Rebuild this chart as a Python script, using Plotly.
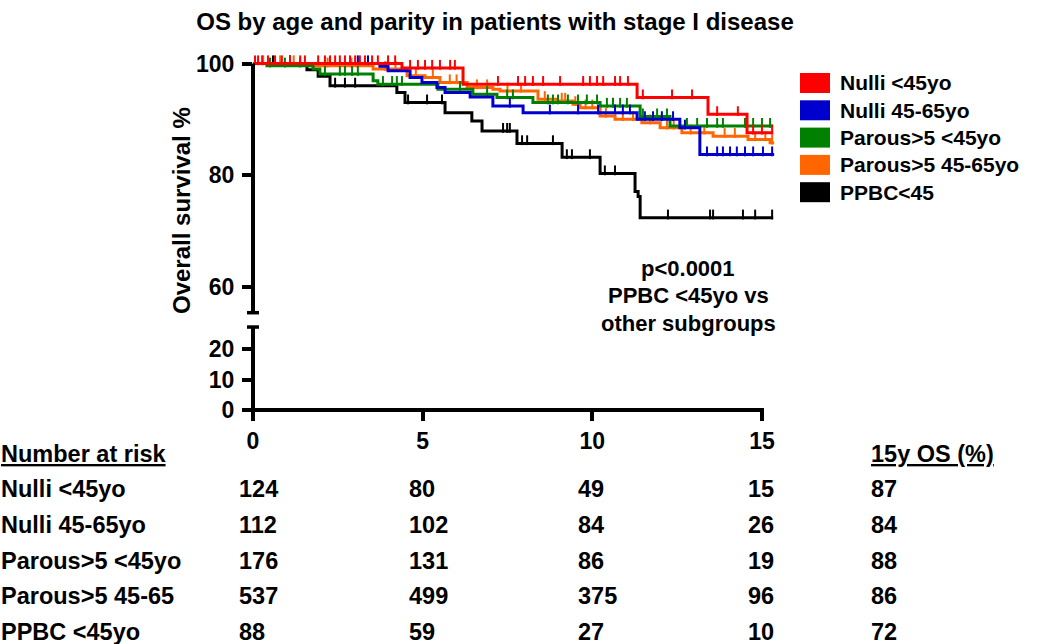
import plotly.graph_objects as go

W, H = 1050, 644
FONT = "Liberation Sans"

# ---------------- data ----------------
series_names = ["Nulli <45yo", "Nulli 45-65yo", "Parous>5 <45yo", "Parous>5 45-65yo", "PPBC<45"]
series_colors = ["#FF0000", "#0000CC", "#008000", "#FF6600", "#000000"]

# Kaplan-Meier steps: time (years) of each drop and survival (%) after it
nulli_young_t = [4.39, 6.19, 11.32, 13.41, 14.56]
nulli_young_s = [99.2, 96.3, 93.9, 90.9, 87.6]
nulli_young_end = 15.33
nulli_young_cens = [0.06, 0.15, 0.27, 0.44, 0.65, 0.85, 1.09, 1.39, 1.53, 1.92, 2.12, 2.27, 2.42,
                    2.56, 2.71, 2.86, 3.01, 3.15, 3.30, 3.51, 3.68, 3.98, 4.19, 4.63, 4.86, 5.07,
                    5.28, 5.51, 5.81, 5.95, 7.22, 7.81, 8.02, 8.25, 8.55, 9.05, 9.73, 9.93, 10.14,
                    10.32, 10.67, 10.82, 11.05, 11.49, 12.35, 12.94, 13.68, 14.29, 14.74, 15.0, 15.30]

nulli_mid_t = [3.74, 3.98, 4.63, 4.98, 5.42, 5.66, 6.40, 7.07, 7.96, 11.32, 12.58, 13.17]
nulli_mid_s = [99.5, 98.7, 97.5, 96.6, 95.7, 94.8, 94.0, 92.4, 91.2, 90.0, 88.5, 83.7]
nulli_mid_end = 15.36
nulli_mid_cens = [3.09, 3.39, 7.57, 8.75, 9.58, 10.17, 10.67, 10.90, 11.11, 11.55, 11.79, 12.05,
                  12.38, 12.73, 13.38, 13.68, 13.85, 14.06, 14.26, 14.50, 14.74, 15.03, 15.30]

parous_young_t = [0.41, 1.77, 1.97, 3.54, 3.68, 5.45, 6.48, 7.19, 8.25, 10.23, 11.41, 12.29]
parous_young_s = [99.6, 99.0, 98.1, 96.9, 96.3, 95.4, 94.5, 93.9, 93.0, 92.4, 90.5, 88.8]
parous_young_end = 15.33
parous_young_cens = [0.50, 0.94, 1.39, 2.12, 2.56, 2.71, 2.92, 3.09, 3.83, 4.10, 4.24, 4.39, 6.10,
                     6.90, 7.49, 7.66, 8.69, 8.84, 8.99, 9.28, 9.58, 9.84, 10.14, 10.43, 10.61,
                     10.82, 11.02, 11.49, 11.91, 12.20, 12.79, 13.09, 13.38, 13.68, 13.85, 14.50,
                     14.74, 15.0, 15.24]

parous_mid_t = [1.83, 3.54, 4.54, 5.07, 5.51, 6.31, 7.07, 7.28, 8.40, 8.96, 9.43, 9.64, 10.23,
                10.67, 11.46, 12.00, 12.64, 13.56, 14.59, 15.24]
parous_mid_s = [99.6, 99.0, 97.8, 97.5, 96.6, 95.7, 95.4, 95.1, 93.6, 93.3, 92.7, 92.1, 90.6,
                90.0, 89.4, 88.5, 87.6, 87.0, 86.4, 85.8]
parous_mid_end = 15.36
parous_mid_cens = [0.3, 0.8, 1.2, 2.2, 2.9, 3.1, 3.9, 4.2, 4.8, 5.3, 5.8, 6.0, 6.6, 6.9, 7.5, 7.9,
                   8.6, 9.1, 9.2, 9.5, 9.8, 10.0, 10.4, 10.9, 11.2, 11.7, 12.2, 12.4, 12.9, 13.3,
                   13.9, 14.2, 14.8, 15.1, 15.3]

ppbc_t = [1.59, 1.92, 2.27, 4.24, 4.48, 5.66, 6.45, 6.75, 7.78, 9.11, 10.23, 11.26, 11.35, 11.41]
ppbc_s = [98.9, 97.7, 96.0, 94.8, 93.0, 91.2, 89.7, 87.9, 85.7, 83.2, 80.3, 77.1, 76.2, 72.4]
ppbc_end = 15.33
ppbc_cens = [0.59, 1.09, 2.42, 2.71, 3.01, 4.57, 5.13, 5.57, 7.37, 7.49, 7.57, 7.93, 8.08, 8.84,
             9.25, 9.40, 9.93, 10.37, 10.67, 12.23, 13.47, 13.56, 14.44, 14.80, 15.30]

curves = [
    (nulli_young_t, nulli_young_s, nulli_young_end, nulli_young_cens),
    (nulli_mid_t, nulli_mid_s, nulli_mid_end, nulli_mid_cens),
    (parous_young_t, parous_young_s, parous_young_end, parous_young_cens),
    (parous_mid_t, parous_mid_s, parous_mid_end, parous_mid_cens),
    (ppbc_t, ppbc_s, ppbc_end, ppbc_cens),
]
draw_order = [4, 3, 2, 1, 0]

upper_ticks = [60, 80, 100]
lower_ticks = [0, 10, 20]
x_ticks = [0, 5, 10, 15]

risk_header = "Number at risk"
os_header = "15y OS (%)"
risk_rows = ["Nulli <45yo", "Nulli 45-65yo", "Parous>5 <45yo", "Parous>5 45-65", "PPBC <45yo"]
risk_times = [0, 5, 10, 15]
risk_nulli_young = [124, 80, 49, 15]
risk_nulli_mid = [112, 102, 84, 26]
risk_parous_young = [176, 131, 86, 19]
risk_parous_mid = [537, 499, 375, 96]
risk_ppbc = [88, 59, 27, 10]
risk_values = [risk_nulli_young, risk_nulli_mid, risk_parous_young, risk_parous_mid, risk_ppbc]
os15 = [87, 84, 88, 86, 72]

title_text = "OS by age and parity in patients with stage I disease"
ytitle_text = "Overall survival %"
pvalue_lines = ["p<0.0001", "PPBC <45yo vs", "other subgroups"]

# ---------------- layout geometry ----------------
X0_PX, PX_PER_YR = 253.0, 33.93
X_RANGE = [0, 15.4]
Y100_PX, PX_PER_PCT = 63.5, 5.5875
UP_RANGE = [55.4, 100.8]
Y0_PX, PX_PER_LOW = 410.0, 3.05
LOW_RANGE = [0, 27.2]


def px(x):
    return x / W


def py(y):
    return 1 - y / H


x_dom = [px(X0_PX), px(X0_PX + X_RANGE[1] * PX_PER_YR)]
up_top = Y100_PX - (UP_RANGE[1] - 100) * PX_PER_PCT
up_bot = Y100_PX + (100 - UP_RANGE[0]) * PX_PER_PCT
up_dom = [py(up_bot), py(up_top)]
low_top = Y0_PX - LOW_RANGE[1] * PX_PER_LOW
low_dom = [py(Y0_PX), py(low_top)]


def surv_at(times, survs, t):
    s = 100.0
    for ti, si in zip(times, survs):
        if ti <= t:
            s = si
    return s


fig = go.Figure()
# invisible trace so that the lower (broken) axis panel exists
fig.add_trace(go.Scatter(x=[1], y=[1], mode="markers", marker=dict(size=1, opacity=0),
                         xaxis="x", yaxis="y", showlegend=False, hoverinfo="skip"))
for i in draw_order:
    t, s, end, cens = curves[i]
    xs = [0] + t + [end]
    ys = [100] + s + [s[-1]]
    fig.add_trace(go.Scatter(x=xs, y=ys, mode="lines", line=dict(color=series_colors[i], width=3, shape="hv"),
                             xaxis="x", yaxis="y2", showlegend=False, hoverinfo="skip"))
    tick_off = 3.2 / PX_PER_PCT
    fig.add_trace(go.Scatter(x=cens, y=[surv_at(t, s, c) + tick_off for c in cens], mode="markers",
                             marker=dict(symbol="line-ns", size=7, line=dict(color=series_colors[i], width=2)),
                             xaxis="x", yaxis="y2", showlegend=False, hoverinfo="skip", cliponaxis=False))

tickfont = dict(family=FONT, size=23, color="black", weight="bold")
fig.update_layout(
    width=W, height=H, margin=dict(l=0, r=0, t=0, b=0, autoexpand=False),
    paper_bgcolor="white", plot_bgcolor="white",
    xaxis=dict(domain=x_dom, range=X_RANGE, anchor="y", showgrid=False, zeroline=False, showline=False,
               tickmode="array", tickvals=x_ticks, ticks="outside", ticklen=10, tickwidth=4, tickcolor="black",
               tickfont=tickfont, ticklabelstandoff=0, automargin=False),
    yaxis=dict(domain=low_dom, range=LOW_RANGE, anchor="x", showgrid=False, zeroline=False, showline=False,
               tickmode="array", tickvals=lower_ticks, ticks="outside", ticklen=10, tickwidth=4, tickcolor="black",
               tickfont=tickfont, ticklabelstandoff=3, automargin=False),
    yaxis2=dict(domain=up_dom, range=UP_RANGE, anchor="x", showgrid=False, zeroline=False, showline=False,
                tickmode="array", tickvals=upper_ticks, ticks="outside", ticklen=10, tickwidth=4, tickcolor="black",
                tickfont=tickfont, ticklabelstandoff=3, automargin=False),
    title=dict(text="<b>" + title_text + "</b>", x=px(495), xanchor="center", y=py(22), yanchor="middle",
               font=dict(family=FONT, size=24, color="black")),
)

# axis lines (drawn as shapes to mimic the broken axis)
line = dict(color="black", width=4)
y1_up = (100 - UP_RANGE[0]) / (UP_RANGE[1] - UP_RANGE[0])
fig.add_shape(type="line", xref="paper", yref="y2 domain", x0=px(X0_PX), x1=px(X0_PX), y0=0, y1=y1_up, line=line)
fig.add_shape(type="line", xref="paper", yref="y2 domain", x0=px(X0_PX - 6), x1=px(X0_PX + 6), y0=0, y1=0,
              line=dict(color="black", width=3.5))
fig.add_shape(type="line", xref="paper", yref="y domain", x0=px(X0_PX), x1=px(X0_PX), y0=0, y1=1, line=line)
fig.add_shape(type="line", xref="paper", yref="y domain", x0=px(X0_PX - 6), x1=px(X0_PX + 6), y0=1, y1=1,
              line=dict(color="black", width=3.5))
fig.add_shape(type="line", xref="x domain", yref="y domain", x0=-2 / (X_RANGE[1] * PX_PER_YR),
              x1=(15 - X_RANGE[0]) / (X_RANGE[1] - X_RANGE[0]) + 2 / (X_RANGE[1] * PX_PER_YR),
              y0=0, y1=0, line=line)

# y axis title
fig.add_annotation(text="<b>" + ytitle_text + "</b>", textangle=-90, x=px(181), y=py(211), xref="paper",
                   yref="paper", showarrow=False, xanchor="center", yanchor="middle",
                   font=dict(family=FONT, size=24, color="black"))

# p-value text
for k, ln in enumerate(pvalue_lines):
    fig.add_annotation(text="<b>" + ln + "</b>", x=px(688), y=py(268 + k * 27.5), xref="paper", yref="paper",
                       showarrow=False, xanchor="center", yanchor="middle",
                       font=dict(family=FONT, size=22, color="black"))

# legend (manual, square swatches)
for i, (nm, col) in enumerate(zip(series_names, series_colors)):
    yc = 83 + i * 27.3
    fig.add_shape(type="rect", xref="paper", yref="paper", x0=px(800), x1=px(830), y0=py(yc - 10), y1=py(yc + 10),
                  fillcolor=col, line=dict(width=0))
    fig.add_annotation(text="<b>" + nm + "</b>", x=px(838), y=py(yc), xref="paper", yref="paper",
                       showarrow=False, xanchor="left", yanchor="middle",
                       font=dict(family=FONT, size=21, color="black"))

# number-at-risk table
tab_font = dict(family=FONT, size=23.5, color="black")
row_y0, row_dy = 489, 35.8
fig.add_annotation(text="<b><u>" + risk_header + "</u></b>", x=px(-1), y=py(454), xref="paper", yref="paper",
                   showarrow=False, xanchor="left", yanchor="middle", font=tab_font)
fig.add_annotation(text="<b><u>" + os_header + "</u></b>", x=px(869), y=py(454), xref="paper", yref="paper",
                   showarrow=False, xanchor="left", yanchor="middle", font=tab_font)
for r, (lab, vals, osv) in enumerate(zip(risk_rows, risk_values, os15)):
    yc = row_y0 + r * row_dy
    fig.add_annotation(text="<b>" + lab + "</b>", x=px(-1), y=py(yc), xref="paper", yref="paper",
                       showarrow=False, xanchor="left", yanchor="middle", font=tab_font)
    for tt, v in zip(risk_times, vals):
        fig.add_annotation(text="<b>" + str(v) + "</b>", x=px(X0_PX + tt * PX_PER_YR - 16), y=py(yc),
                           xref="paper", yref="paper", showarrow=False, xanchor="left", yanchor="middle",
                           font=tab_font)
    fig.add_annotation(text="<b>" + str(osv) + "</b>", x=px(869), y=py(yc), xref="paper", yref="paper",
                       showarrow=False, xanchor="left", yanchor="middle", font=tab_font)

fig.write_html("out.html", config={"displayModeBar": False},
               post_script="document.body.style.margin='0';document.body.style.overflow='hidden';")
